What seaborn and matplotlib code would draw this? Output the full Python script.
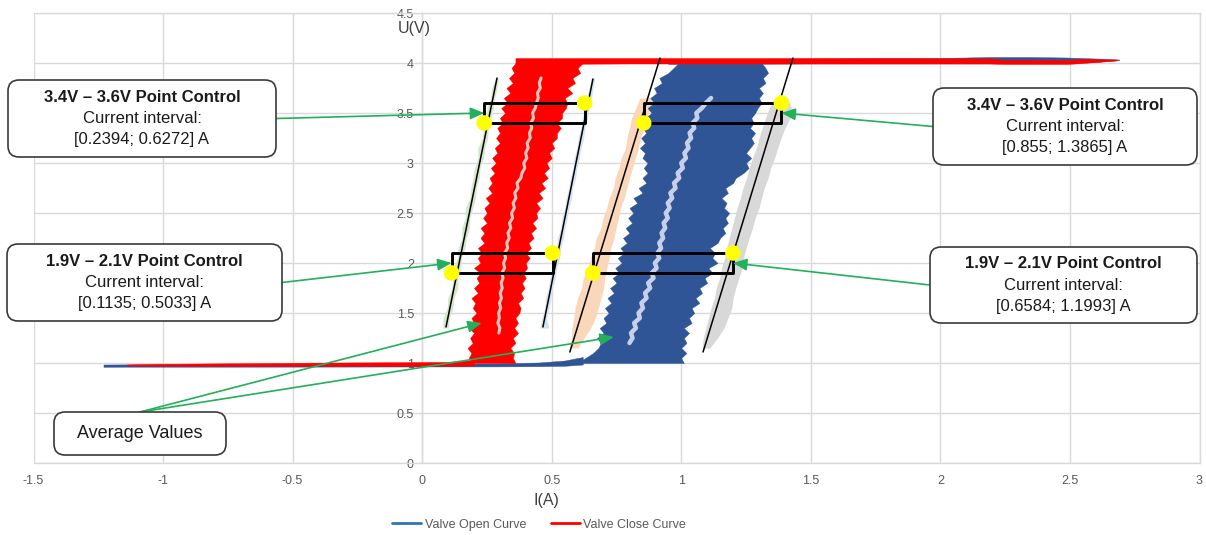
import numpy as np
import pandas as pd
import matplotlib
matplotlib.use("Agg")
import matplotlib.pyplot as plt
import seaborn as sns
from matplotlib.patches import FancyBboxPatch, Rectangle
from matplotlib.lines import Line2D
from matplotlib.transforms import IdentityTransform

# ---------------------------------------------------------------- data
# voltage levels (V) at which the scatter envelopes are sampled
band_u = [1.00, 1.05, 1.10, 1.15, 1.20, 1.25, 1.30, 1.35, 1.40, 1.45,
          1.50, 1.55, 1.60, 1.65, 1.70, 1.75, 1.80, 1.85, 1.90, 1.95,
          2.00, 2.05, 2.10, 2.15, 2.20, 2.25, 2.30, 2.35, 2.40, 2.45,
          2.50, 2.55, 2.60, 2.65, 2.70, 2.75, 2.80, 2.85, 2.90, 2.95,
          3.00, 3.05, 3.10, 3.15, 3.20, 3.25, 3.30, 3.35, 3.40, 3.45,
          3.50, 3.55, 3.60, 3.65, 3.70, 3.75, 3.80, 3.85, 3.90, 3.95,
          4.00]

# valve close curve: current envelope (A)
close_left = [0.19, 0.18, 0.19, 0.175, 0.195, 0.185, 0.20, 0.18, 0.20, 0.19,
              0.21, 0.195, 0.205, 0.19, 0.215, 0.20, 0.22, 0.21, 0.225, 0.20,
              0.225, 0.215, 0.23, 0.215, 0.24, 0.225, 0.24, 0.225, 0.25, 0.235,
              0.25, 0.24, 0.26, 0.245, 0.27, 0.255, 0.27, 0.26, 0.28, 0.265,
              0.285, 0.27, 0.29, 0.28, 0.30, 0.285, 0.30, 0.29, 0.31, 0.30,
              0.32, 0.305, 0.33, 0.315, 0.34, 0.325, 0.35, 0.335, 0.355, 0.345,
              0.36]
close_right = [0.36, 0.35, 0.355, 0.34, 0.36, 0.35, 0.37, 0.355, 0.37, 0.36,
               0.375, 0.38, 0.37, 0.39, 0.38, 0.395, 0.385, 0.40, 0.39, 0.405,
               0.40, 0.415, 0.40, 0.42, 0.41, 0.43, 0.42, 0.44, 0.425, 0.445,
               0.44, 0.455, 0.44, 0.465, 0.45, 0.475, 0.46, 0.485, 0.47, 0.49,
               0.48, 0.50, 0.49, 0.51, 0.50, 0.52, 0.52, 0.535, 0.52, 0.54,
               0.54, 0.555, 0.56, 0.55, 0.58, 0.56, 0.59, 0.58, 0.61, 0.60,
               0.62]

# valve open curve: current envelope (A)
open_left = [0.60, 0.63, 0.66, 0.68, 0.69, 0.675, 0.70, 0.685, 0.71, 0.70,
             0.72, 0.705, 0.73, 0.715, 0.74, 0.725, 0.75, 0.735, 0.76, 0.745,
             0.77, 0.755, 0.78, 0.765, 0.79, 0.775, 0.80, 0.785, 0.81, 0.795,
             0.815, 0.80, 0.83, 0.815, 0.85, 0.835, 0.865, 0.85, 0.87, 0.855,
             0.87, 0.85, 0.86, 0.84, 0.86, 0.845, 0.865, 0.85, 0.875, 0.86,
             0.885, 0.87, 0.895, 0.88, 0.905, 0.895, 0.925, 0.915, 0.95, 0.97,
             0.99]
open_right = [1.01, 1.00, 1.02, 1.00, 1.02, 1.01, 1.03, 1.01, 1.04, 1.03,
              1.05, 1.04, 1.07, 1.055, 1.08, 1.07, 1.10, 1.09, 1.12, 1.105,
              1.14, 1.12, 1.13, 1.11, 1.14, 1.15, 1.17, 1.16, 1.18, 1.17,
              1.185, 1.165, 1.175, 1.155, 1.18, 1.17, 1.20, 1.21, 1.24, 1.26,
              1.25, 1.27, 1.25, 1.265, 1.28, 1.27, 1.285, 1.265, 1.28, 1.27,
              1.285, 1.295, 1.31, 1.30, 1.315, 1.30, 1.325, 1.315, 1.335, 1.325,
              1.31]

# average current per level (close: 1.30-3.85 V, open: 1.20-3.65 V)
close_avg_u = band_u[6:58]
close_avg_i = [0.296, 0.300, 0.292, 0.298, 0.295, 0.303, 0.298, 0.306, 0.301, 0.309,
               0.305, 0.312, 0.308, 0.318, 0.314, 0.322, 0.318, 0.330, 0.326, 0.336,
               0.331, 0.342, 0.337, 0.349, 0.345, 0.356, 0.351, 0.362, 0.357, 0.370,
               0.366, 0.381, 0.385, 0.396, 0.392, 0.404, 0.399, 0.409, 0.405, 0.417,
               0.414, 0.423, 0.419, 0.430, 0.426, 0.437, 0.441, 0.448, 0.445, 0.456,
               0.452, 0.459]
open_avg_u = band_u[4:54]
open_avg_i = [0.800, 0.812, 0.806, 0.825, 0.818, 0.840, 0.835, 0.852, 0.846, 0.866,
              0.860, 0.880, 0.872, 0.893, 0.886, 0.905, 0.898, 0.915, 0.908, 0.922,
              0.915, 0.930, 0.924, 0.938, 0.932, 0.948, 0.940, 0.955, 0.948, 0.965,
              0.958, 0.978, 0.972, 0.992, 0.986, 1.006, 1.000, 1.018, 1.012, 1.028,
              1.022, 1.038, 1.032, 1.050, 1.044, 1.062, 1.058, 1.080, 1.095, 1.115]

# horizontal runs at the low (~1 V) and high (~4 V) voltage plateaus
open_base_i = [-1.23, -1.15, -0.80, -0.30, 0.00, 0.30, 0.45, 0.55, 0.62]
open_base_lo = [0.962, 0.963, 0.963, 0.964, 0.965, 0.966, 0.968, 0.972, 0.985]
open_base_hi = [0.985, 0.986, 0.988, 0.990, 0.992, 0.996, 1.005, 1.025, 1.060]
close_base_i = [-1.14, -1.00, -0.70, -0.40, -0.10, 0.10, 0.20]
close_base_lo = [0.975, 0.972, 0.970, 0.970, 0.970, 0.972, 0.975]
close_base_hi = [0.985, 0.992, 0.998, 1.004, 1.008, 1.012, 1.030]
open_top_i = [0.95, 1.50, 2.00, 2.19, 2.35, 2.49, 2.60, 2.69]
open_top_lo = [3.990, 3.995, 3.995, 3.995, 4.000, 4.000, 4.010, 4.030]
open_top_hi = [4.040, 4.045, 4.050, 4.060, 4.060, 4.055, 4.045, 4.035]
close_top_i = [0.36, 0.80, 1.30, 1.80, 2.19, 2.25, 2.49, 2.55, 2.68]
close_top_lo = [3.990, 3.995, 3.995, 3.995, 3.995, 3.990, 3.990, 4.000, 4.025]
close_top_hi = [4.050, 4.050, 4.050, 4.050, 4.045, 4.030, 4.030, 4.040, 4.035]

# limit lines: lower and upper end points
guide_lo_i = [0.092, 0.466, 0.570, 1.084]
guide_lo_u = [1.36, 1.36, 1.11, 1.11]
guide_hi_i = [0.289, 0.659, 0.918, 1.431]
guide_hi_u = [3.85, 3.84, 4.05, 4.05]

# scatter of the limit series around each limit line
limit_u_a = [1.35, 1.45, 1.55, 1.65, 1.75, 1.85, 1.95, 2.05, 2.15, 2.25,
             2.35, 2.45, 2.55, 2.65, 2.75, 2.85, 2.95, 3.05, 3.15, 3.25,
             3.35, 3.45, 3.55, 3.65, 3.75, 3.85]
green_left = [0.079, 0.081, 0.097, 0.099, 0.115, 0.117, 0.119, 0.137, 0.139, 0.153,
              0.153, 0.166, 0.167, 0.184, 0.188, 0.196, 0.202, 0.215, 0.215, 0.232,
              0.236, 0.247, 0.250, 0.265, 0.269, 0.283]
green_right = [0.101, 0.105, 0.119, 0.123, 0.137, 0.138, 0.149, 0.152, 0.165, 0.170,
               0.183, 0.184, 0.195, 0.206, 0.209, 0.220, 0.223, 0.237, 0.241, 0.253,
               0.255, 0.266, 0.275, 0.280, 0.289, 0.294]
sky_left = [0.455, 0.462, 0.473, 0.476, 0.488, 0.492, 0.503, 0.508, 0.519, 0.522,
            0.535, 0.539, 0.550, 0.556, 0.566, 0.571, 0.582, 0.586, 0.597, 0.602,
            0.613, 0.618, 0.629, 0.634, 0.645, 0.652]
sky_right = [0.490, 0.480, 0.490, 0.497, 0.503, 0.514, 0.519, 0.530, 0.535, 0.545,
             0.551, 0.560, 0.566, 0.577, 0.581, 0.592, 0.597, 0.607, 0.613, 0.623,
             0.628, 0.638, 0.644, 0.654, 0.659, 0.666]
limit_u_b = [1.15, 1.25, 1.35, 1.45, 1.55, 1.65, 1.75, 1.85, 1.95, 2.05,
             2.15, 2.25, 2.35, 2.45, 2.55, 2.65, 2.75, 2.85, 2.95, 3.05,
             3.15, 3.25, 3.35, 3.45, 3.55, 3.65]
peach_left = [0.568, 0.575, 0.578, 0.585, 0.590, 0.600, 0.615, 0.622, 0.640, 0.650,
              0.665, 0.672, 0.690, 0.698, 0.712, 0.722, 0.738, 0.745, 0.760, 0.768,
              0.785, 0.790, 0.800, 0.808, 0.825, 0.840]
peach_right = [0.600, 0.625, 0.650, 0.668, 0.680, 0.690, 0.700, 0.705, 0.712, 0.722,
               0.728, 0.740, 0.748, 0.758, 0.765, 0.780, 0.790, 0.800, 0.812, 0.822,
               0.835, 0.842, 0.858, 0.866, 0.880, 0.885]
grey_left = [1.080, 1.085, 1.095, 1.105, 1.115, 1.128, 1.135, 1.148, 1.155, 1.168,
             1.175, 1.185, 1.195, 1.205, 1.215, 1.228, 1.238, 1.252, 1.262, 1.275,
             1.290, 1.300, 1.312, 1.325, 1.340, 1.360]
grey_right = [1.110, 1.140, 1.165, 1.180, 1.195, 1.200, 1.210, 1.222, 1.235, 1.240,
              1.250, 1.262, 1.275, 1.285, 1.300, 1.310, 1.320, 1.335, 1.345, 1.360,
              1.372, 1.385, 1.400, 1.420, 1.425, 1.410]

# point-control windows: voltage band and current interval (A)
interval_u0 = [3.4, 3.4, 1.9, 1.9]
interval_u1 = [3.6, 3.6, 2.1, 2.1]
interval_lo = [0.2394, 0.855, 0.1135, 0.6584]
interval_hi = [0.6272, 1.3865, 0.5033, 1.1993]

# points the "Average Values" callout refers to
avg_pointer_i = [0.23, 0.74]
avg_pointer_u = [1.40, 1.26]

x_ticks = [-1.5, -1, -0.5, 0, 0.5, 1, 1.5, 2, 2.5, 3]
y_ticks = [0, 0.5, 1, 1.5, 2, 2.5, 3, 3.5, 4, 4.5]
series_names = ["Valve Open Curve", "Valve Close Curve"]

# ---------------------------------------------------------------- style
OPEN_C = "#2F5597"
OPEN_AVG = "#C7D0E8"
CLOSE_C = "#FF0000"
CLOSE_AVG = "#F5C6C0"
GRID_C = "#D9D9D9"
TEXT_C = "#595959"
ARROW_C = "#22B05A"

sns.set_theme(style="whitegrid")
plt.rcParams["font.family"] = ["Liberation Sans", "DejaVu Sans"]
plt.rcParams["axes.unicode_minus"] = False

W, H = 1206, 535
fig = plt.figure(figsize=(W / 100, H / 100), dpi=100)
fig.patch.set_facecolor("white")
ax = fig.add_axes([33.5 / W, 72 / H, 1166 / W, 450 / H])
ax.set_facecolor("white")

# faint scatter around the limit lines
for u, lo, hi, c in [(limit_u_a, green_left, green_right, "#D5E6CA"),
                     (limit_u_a, sky_left, sky_right, "#D2E3F3"),
                     (limit_u_b, peach_left, peach_right, "#FAD6BA"),
                     (limit_u_b, grey_left, grey_right, "#D8D8D8")]:
    ax.fill_betweenx(u, lo, hi, color=c, lw=0, zorder=1)

# valve open curve
ax.fill_betweenx(band_u, open_left, open_right, color=OPEN_C, lw=0.3, zorder=2)
ax.fill_between(open_base_i, open_base_lo, open_base_hi, color=OPEN_C, lw=0.3, zorder=2)
ax.fill_between(open_top_i, open_top_lo, open_top_hi, color=OPEN_C, lw=0.3, zorder=2)

# valve close curve
ax.fill_betweenx(band_u, close_left, close_right, color=CLOSE_C, lw=0.3, zorder=3)
ax.fill_between(close_base_i, close_base_lo, close_base_hi, color=CLOSE_C, lw=0.3, zorder=3)
ax.fill_between(close_top_i, close_top_lo, close_top_hi, color=CLOSE_C, lw=0.3, zorder=3)

# average values
sns.lineplot(x=close_avg_i, y=close_avg_u, sort=False, estimator=None, ax=ax,
             color=CLOSE_AVG, lw=2.2, zorder=4, legend=False)
sns.lineplot(x=open_avg_i, y=open_avg_u, sort=False, estimator=None, ax=ax,
             color=OPEN_AVG, lw=3.2, zorder=4, legend=False)

# limit lines
guides = pd.DataFrame({
    "I": guide_lo_i + guide_hi_i,
    "U": guide_lo_u + guide_hi_u,
    "line": list(range(4)) * 2,
})
sns.lineplot(data=guides, x="I", y="U", units="line", estimator=None, sort=False,
             color="black", lw=1.1, ax=ax, zorder=5, legend=False)

# point-control windows
for lo, hi, u0, u1 in zip(interval_lo, interval_hi, interval_u0, interval_u1):
    ax.add_patch(Rectangle((lo, u0), hi - lo, u1 - u0, fill=False, ec="black",
                           lw=2.1, joinstyle="round", zorder=6))
sns.scatterplot(x=interval_lo + interval_hi, y=interval_u0 + interval_u1, s=125,
                color="#FFFF00", edgecolor="none", ax=ax, zorder=7, legend=False)

# axes
ax.set_xlim(-1.5, 3)
ax.set_ylim(0, 4.5)
ax.set_xticks(x_ticks)
ax.set_xticklabels([f"{t:g}" for t in x_ticks])
ax.set_yticks(y_ticks)
ax.set_yticklabels([f"{t:g}" for t in y_ticks])
ax.set_xlabel("")
ax.set_ylabel("")
ax.grid(True, color=GRID_C, lw=1.0)
ax.set_axisbelow(True)
ax.spines["left"].set_position(("data", 0))
for s in ax.spines.values():
    s.set_color(GRID_C)
    s.set_linewidth(1.0)
ax.tick_params(axis="both", length=0, labelsize=9, labelcolor=TEXT_C)
ax.tick_params(axis="y", pad=6)
ax.tick_params(axis="x", pad=9)
ax.text(-0.03, 4.35, "U(V)", ha="center", va="center", fontsize=11.5,
        color="#404040", clip_on=False)
ax.text(0.48, -0.38, "I(A)", ha="center", va="center", fontsize=11.5,
        color="#404040", clip_on=False)

# callout boxes (pixel geometry, y measured from the top)
def callout(x0, y0, x1, y1):
    fig.add_artist(FancyBboxPatch((x0, H - y1), x1 - x0, y1 - y0,
                                  boxstyle="round,pad=0,rounding_size=11",
                                  transform=IdentityTransform(), fc="white",
                                  ec="#3A3A3A", lw=1.2, zorder=10))
    return (x0 + x1) / 2, (y0 + y1) / 2

boxes = [(8, 80, 276, 157), (933, 88, 1197, 165), (7, 244, 282, 321), (930, 247, 1197, 323)]
for k, (x0, y0, x1, y1) in enumerate(boxes):
    cx, cy = callout(x0, y0, x1, y1)
    fig.text(cx / W, 1 - (cy - 21) / H,
             f"{interval_u0[k]:g}V \u2013 {interval_u1[k]:g}V Point Control",
             ha="center", va="center", fontsize=12, fontweight="bold",
             color="#1A1A1A", zorder=11)
    fig.text(cx / W, 1 - cy / H, "Current interval:", ha="center", va="center",
             fontsize=12, color="#1A1A1A", zorder=11)
    fig.text(cx / W, 1 - (cy + 21) / H, f"[{interval_lo[k]}; {interval_hi[k]}] A",
             ha="center", va="center", fontsize=12, color="#1A1A1A", zorder=11)
    left_side = x0 < W / 2
    sx = x1 if left_side else x0
    tip_i = interval_lo[k] if left_side else interval_hi[k]
    tip_u = (interval_u0[k] + interval_u1[k]) / 2
    ax.annotate("", xy=(tip_i, tip_u), xycoords="data",
                xytext=(sx / W, 1 - cy / H), textcoords="figure fraction",
                arrowprops=dict(arrowstyle="-|>,head_length=0.7,head_width=0.3",
                                color=ARROW_C, lw=1.2, shrinkA=0, shrinkB=0),
                annotation_clip=False, zorder=8)

cx, cy = callout(54, 412, 226, 455)
fig.text(cx / W, 1 - cy / H, "Average Values", ha="center", va="center",
         fontsize=13, color="#1A1A1A", zorder=11)
for ti, tu in zip(avg_pointer_i, avg_pointer_u):
    ax.annotate("", xy=(ti, tu), xycoords="data",
                xytext=(140 / W, 1 - 412 / H), textcoords="figure fraction",
                arrowprops=dict(arrowstyle="-|>,head_length=0.7,head_width=0.3",
                                color=ARROW_C, lw=1.2, shrinkA=0, shrinkB=0),
                annotation_clip=False, zorder=8)

# legend
handles = [Line2D([], [], color="#2E75B6", lw=2), Line2D([], [], color=CLOSE_C, lw=2)]
fig.legend(handles, series_names, loc="center", bbox_to_anchor=(0.447, 0.019),
           ncol=2, frameon=False, fontsize=9, handlelength=2.3, handletextpad=0.3,
           columnspacing=2.0, labelcolor=TEXT_C)

fig.savefig("out.png", dpi=100, facecolor="white")
